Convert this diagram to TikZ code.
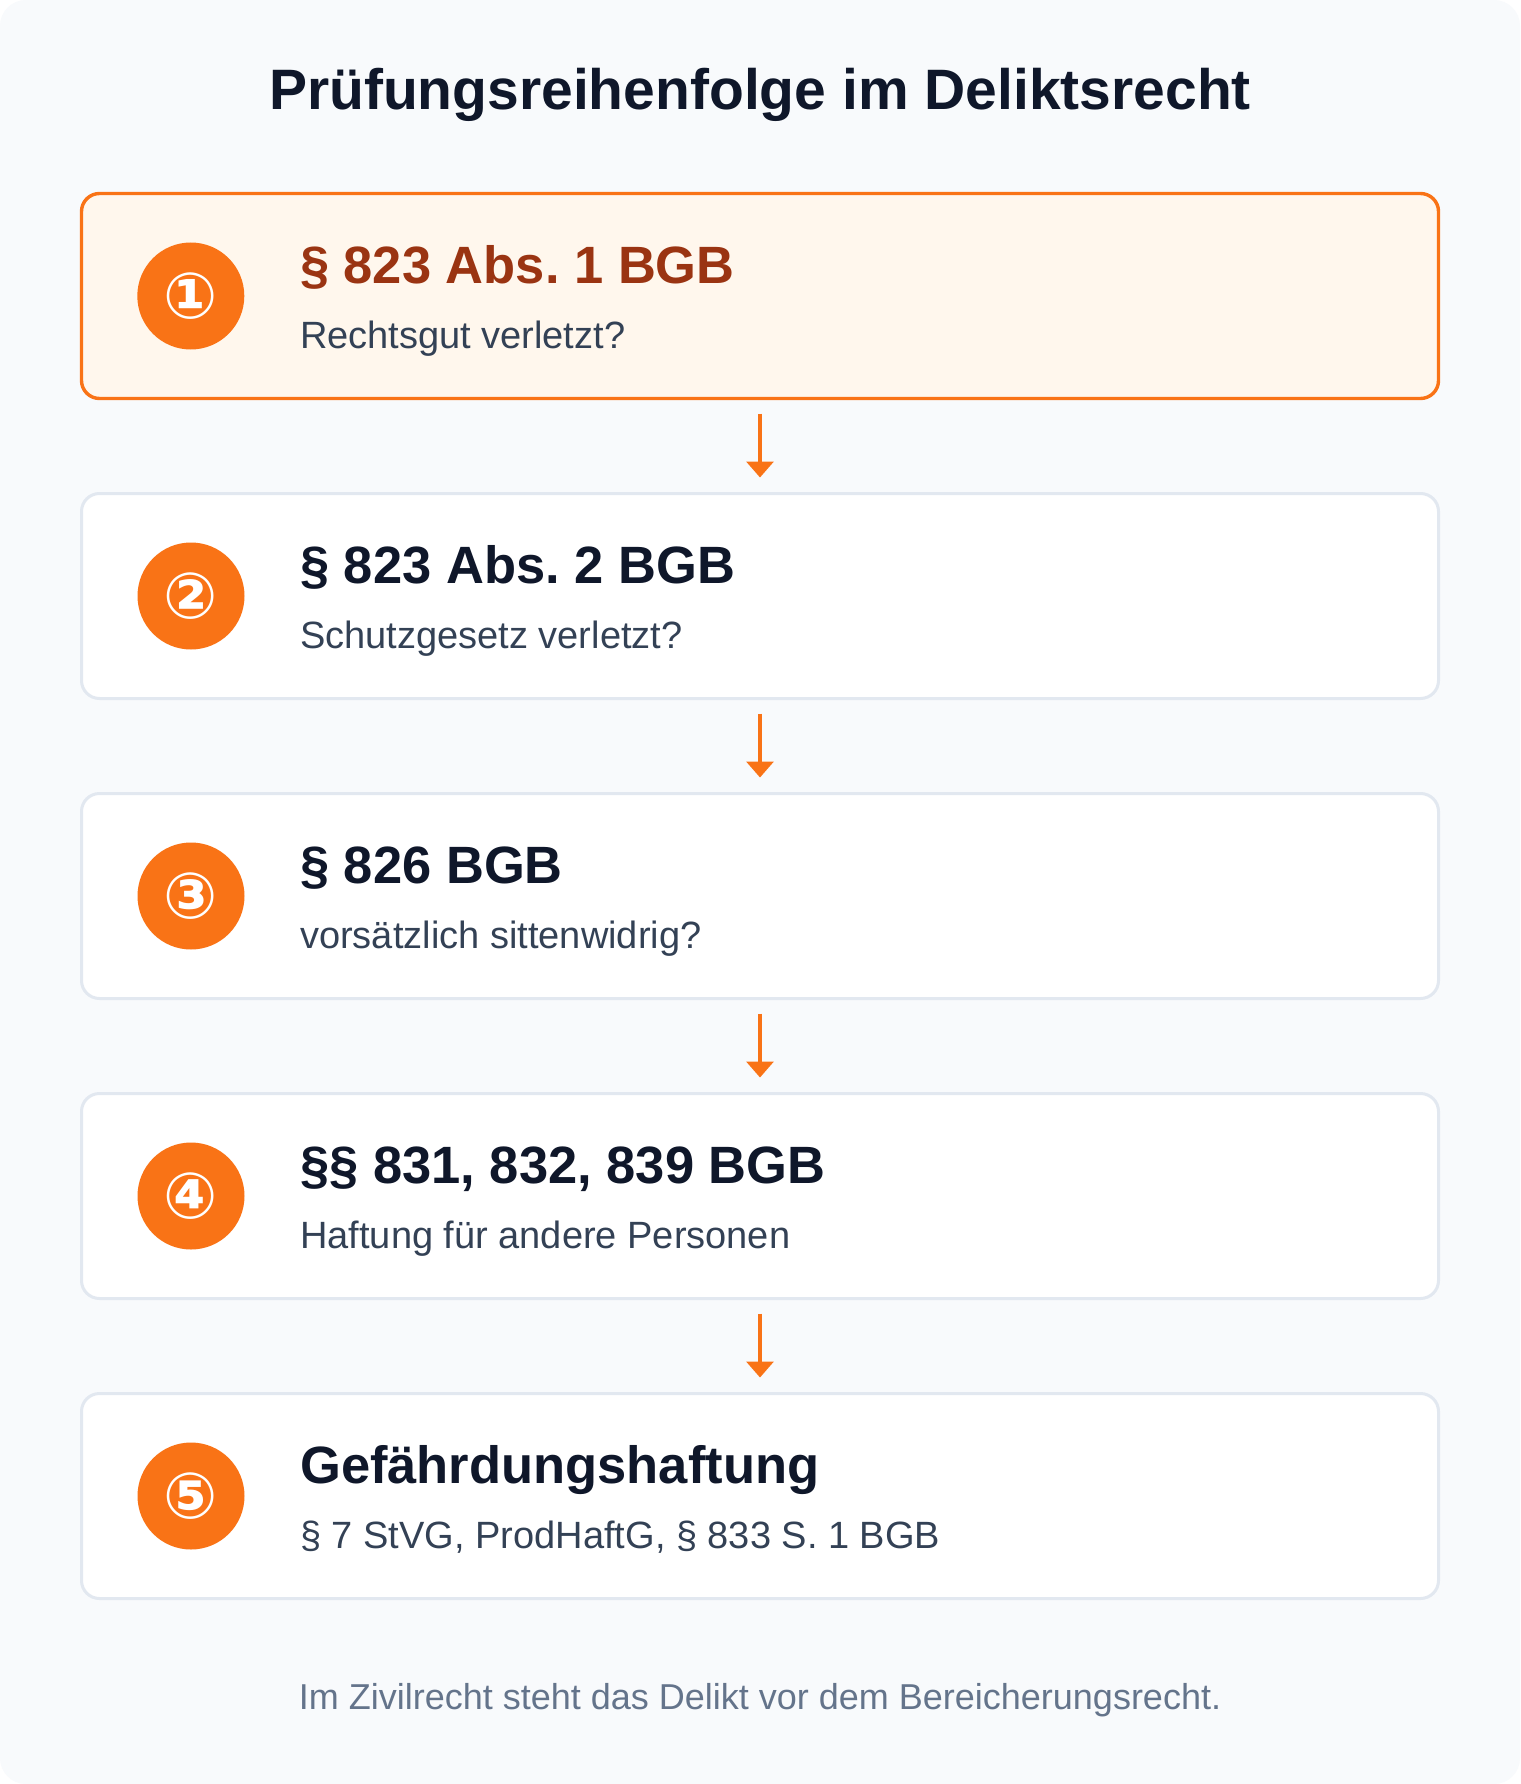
\documentclass[tikz,border=0pt]{standalone}
\usepackage{fontspec}
\setmainfont{Liberation Sans}
\newfontfamily\symfont{DejaVu Sans}
\usepackage{tikz}
\usetikzlibrary{positioning, arrows.meta, calc}
\definecolor{pagebg}{HTML}{F8FAFC}
\definecolor{boxline}{HTML}{E2E8F0}
\definecolor{accent}{HTML}{F97316}
\definecolor{accentbg}{HTML}{FFF7ED}
\definecolor{accentdark}{HTML}{9A3412}
\definecolor{ink}{HTML}{0F172A}
\definecolor{subink}{HTML}{334155}
\definecolor{muted}{HTML}{64748B}

\begin{document}
\begin{tikzpicture}[x=1pt, y=-1pt,
    stagebox/.style={draw=boxline, fill=white, line width=3pt, rounded corners=18pt,
        minimum width=1357pt, minimum height=205pt, inner sep=0pt},
    numdot/.style={circle, fill=accent, minimum size=107pt, inner sep=0pt,
        text=white, font=\symfont\bfseries\fontsize{64}{64}\selectfont},
    headtext/.style={anchor=base west, inner sep=0pt, text=ink,
        font=\bfseries\fontsize{52.5}{60}\selectfont},
    subtext/.style={anchor=base west, inner sep=0pt, text=subink,
        font=\fontsize{38}{44}\selectfont},
    flow/.style={draw=accent, line width=3.4pt, -{Triangle[width=27pt, length=16pt]},
        shorten <=13.5pt, shorten >=14.5pt}]

\useasboundingbox (0,0) rectangle (1520,1784);
\fill[white] (0,0) rectangle (1520,1784);
\fill[pagebg, rounded corners=26pt] (0,0) rectangle (1520,1784);

\node[anchor=base, text=ink, font=\bfseries\fontsize{57}{64}\selectfont] (title)
    at (760,110) {Prüfungsreihenfolge im Deliktsrecht};

% first step is highlighted
\node[stagebox, draw=accent, fill=accentbg, line width=3.4pt] (b1) at (760,296) {};
\node[numdot] (c1) at ($(b1.west)+(111,0)$) {①};
\node[headtext, text=accentdark] (h1) at ($(c1.center)+(109,-12.5)$) {\S~823 Abs.~1 BGB};
\node[subtext] (s1) at ($(c1.center)+(109,52)$) {Rechtsgut verletzt?};

\foreach \i/\sym/\head/\sub in {
    2/②/{\S~823 Abs.~2 BGB}/{Schutzgesetz verletzt?},
    3/③/{\S~826 BGB}/{vorsätzlich sittenwidrig?},
    4/④/{\S\S~831, 832, 839 BGB}/{Haftung für andere Personen},
    5/⑤/{Gefährdungshaftung}/{\S~7 StVG, ProdHaftG, \S~833 S.~1 BGB}}
{
    \node[stagebox] (b\i) at (760,{296+300*(\i-1)}) {};
    \node[numdot] (c\i) at ($(b\i.west)+(111,0)$) {\sym};
    \node[headtext] (h\i) at ($(c\i.center)+(109,-12.5)$) {\head};
    \node[subtext] (s\i) at ($(c\i.center)+(109,52)$) {\sub};
}

\foreach \a/\b in {1/2, 2/3, 3/4, 4/5}
    \draw[flow] (b\a.south) -- (b\b.north);

\node[anchor=base, text=muted, font=\fontsize{36}{42}\selectfont] (note)
    at (760,1709) {Im Zivilrecht steht das Delikt vor dem Bereicherungsrecht.};

\end{tikzpicture}
\end{document}
